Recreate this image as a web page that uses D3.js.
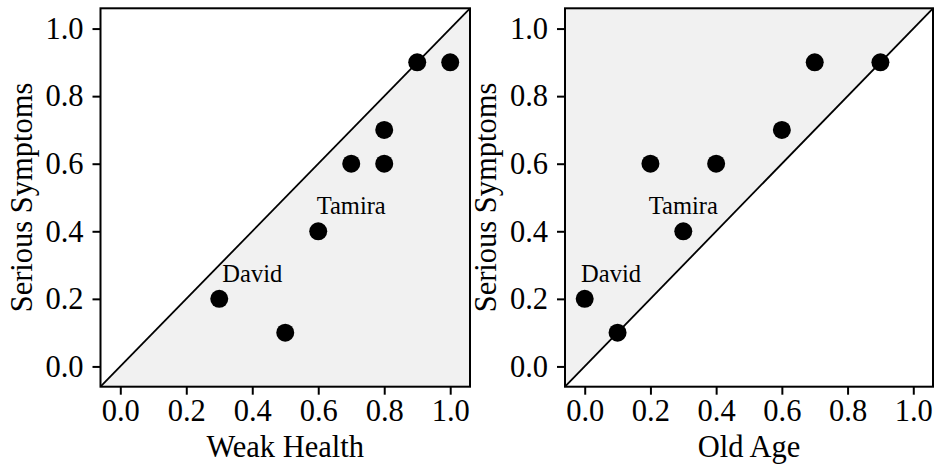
<!DOCTYPE html>
<html><head><meta charset="utf-8">
<script src="https://cdn.jsdelivr.net/npm/d3@7"></script>
<style>body{margin:0;background:#fff}svg{display:block}</style>
</head><body><svg id="c" width="935" height="466"></svg>
<script>
const tickValues = [0, 0.2, 0.4, 0.6, 0.8, 1.0];
const yTitle = "Serious Symptoms";
const weakHealthX = [0.3, 0.5, 0.6, 0.7, 0.8, 0.8, 0.9, 1.0];
const weakHealthY = [0.2, 0.1, 0.4, 0.6, 0.6, 0.7, 0.9, 0.9];
const oldAgeX = [0.0, 0.1, 0.2, 0.3, 0.4, 0.6, 0.7, 0.9];
const oldAgeY = [0.2, 0.1, 0.6, 0.4, 0.6, 0.7, 0.9, 0.9];
const weakHealthLabels = [{text: "David", x: 0.40, y: 0.25}, {text: "Tamira", x: 0.70, y: 0.45}];
const oldAgeLabels = [{text: "David", x: 0.08, y: 0.25}, {text: "Tamira", x: 0.30, y: 0.45}];

const panels = [
  {title: "Weak Health", xs: weakHealthX, ys: weakHealthY, labels: weakHealthLabels, left: 100.5, right: 470, shade: "below"},
  {title: "Old Age", xs: oldAgeX, ys: oldAgeY, labels: oldAgeLabels, left: 565, right: 933, shade: "above"}
];
const dom = [-0.06, 1.06];
const plotTop = 8.3, plotBottom = 386.7;
const svg = d3.select("#c");
const font = "'Liberation Serif','Times New Roman',serif";

panels.forEach(p => {
  const x = d3.scaleLinear().domain(dom).range([p.left, p.right]);
  const y = d3.scaleLinear().domain(dom).range([plotBottom, plotTop]);
  const g = svg.append("g");
  const pts = p.shade === "below"
    ? [[dom[0], dom[0]], [dom[1], dom[1]], [dom[1], dom[0]]]
    : [[dom[0], dom[0]], [dom[0], dom[1]], [dom[1], dom[1]]];
  g.append("path")
    .attr("d", d3.line().x(d => x(d[0])).y(d => y(d[1]))(pts) + "Z")
    .attr("fill", "#f1f1f1");
  g.append("line")
    .attr("x1", x(dom[0])).attr("y1", y(dom[0]))
    .attr("x2", x(dom[1])).attr("y2", y(dom[1]))
    .attr("stroke", "#000").attr("stroke-width", 1.8);
  const data = p.xs.map((v, i) => ({x: v, y: p.ys[i]}));
  g.selectAll("circle").data(data).join("circle")
    .attr("cx", d => x(d.x)).attr("cy", d => y(d.y)).attr("r", 9).attr("fill", "#000");
  g.selectAll("text.lab").data(p.labels).join("text").attr("class", "lab")
    .attr("x", d => x(d.x)).attr("y", d => y(d.y))
    .attr("text-anchor", "middle").attr("font-family", font).attr("font-size", 24.5)
    .text(d => d.text);
  g.append("rect")
    .attr("x", x(dom[0])).attr("y", y(dom[1]))
    .attr("width", x(dom[1]) - x(dom[0])).attr("height", y(dom[0]) - y(dom[1]))
    .attr("fill", "none").attr("stroke", "#000").attr("stroke-width", 2);
  const xa = g.append("g").attr("transform", `translate(0,${plotBottom})`)
    .call(d3.axisBottom(x).tickValues(tickValues).tickFormat(d3.format(".1f")).tickSize(8).tickPadding(5));
  const ya = g.append("g").attr("transform", `translate(${p.left},0)`)
    .call(d3.axisLeft(y).tickValues(tickValues).tickFormat(d3.format(".1f")).tickSize(8).tickPadding(9));
  [xa, ya].forEach(a => {
    a.select(".domain").remove();
    a.selectAll("line").attr("stroke", "#000").attr("stroke-width", 2);
    a.selectAll("text").attr("font-family", font).attr("font-size", 30.5).attr("fill", "#000");
  });
  g.append("text").attr("x", x(0.5)).attr("y", 457)
    .attr("text-anchor", "middle").attr("font-family", font).attr("font-size", 30.5)
    .text(p.title);
  g.append("text").attr("transform", `translate(${p.left - 69},${(plotTop + plotBottom) / 2}) rotate(-90)`)
    .attr("text-anchor", "middle").attr("font-family", font).attr("font-size", 30.5)
    .text(yTitle);
});
</script></body></html>
